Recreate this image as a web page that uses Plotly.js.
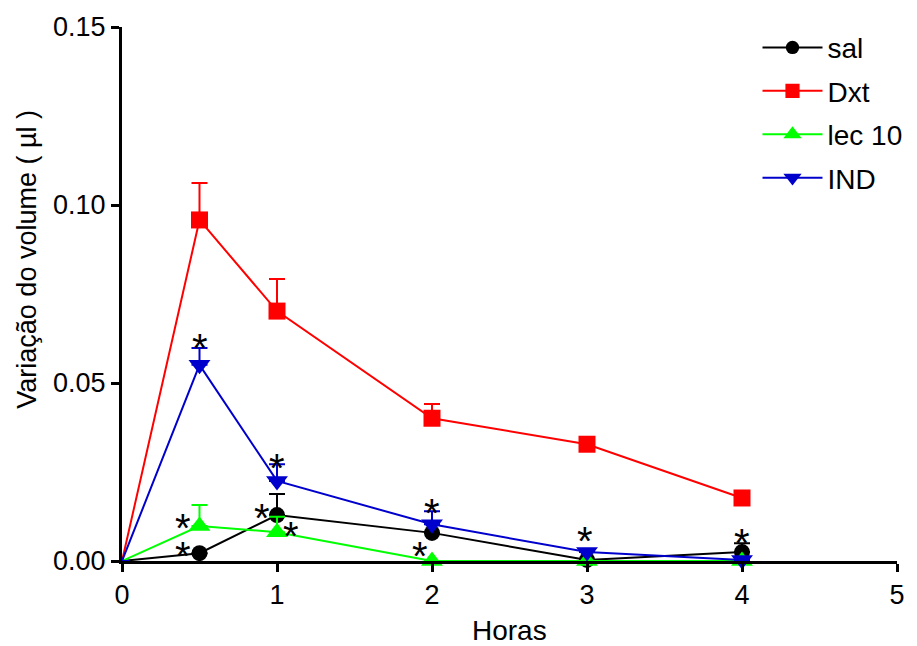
<!DOCTYPE html>
<html>
<head>
<meta charset="utf-8">
<script src="https://cdn.plot.ly/plotly-3.0.1.min.js"></script>
<style>html,body{margin:0;padding:0;background:#fff;}#chart{width:917px;height:646px;}</style>
</head>
<body>
<div id="chart"></div>
<script>
// Data (hours)
const hours = [0, 0.5, 1, 2, 3, 4];
const seriesNames = ['sal', 'Dxt', 'lec 10', 'IND'];
const salMean = [0, 0.0022, 0.0129, 0.0079, 0.0003, 0.0025];
const salErr  = [0, 0,      0.0059, 0,      0,      0.0025];
const dxtMean = [0, 0.0958, 0.0702, 0.0401, 0.0328, 0.0177];
const dxtErr  = [0, 0.0104, 0.0090, 0.0040, 0,      0];
const lecMean = [0, 0.0098, 0.0081, 0.0000, 0.0000, 0.0000];
const lecErr  = [0, 0.0059, 0.0043, 0,      0,      0];
const indMean = [0, 0.0551, 0.0225, 0.0103, 0.0025, 0.0003];
const indErr  = [0, 0.0047, 0.0047, 0.0037, 0,      0];
// significance asterisks (x, y in data units)
const starX = [0.5, 1, 2, 2.99, 4, 0.394, 0.394, 0.903, 1.09, 1.92];
const starY = [0.062, 0.0284, 0.0157, 0.0079, 0.0073, 0.0115, 0.0037, 0.0143, 0.0093, 0.0037];

const colors = ['#000000', '#FF0000', '#00FF00', '#0000CC'];
const symbols = ['circle', 'square', 'triangle-up', 'triangle-down'];
const msize = [16, 17, 19, 19];
const means = [salMean, dxtMean, lecMean, indMean];
const errs = [salErr, dxtErr, lecErr, indErr];

const traces = seriesNames.map((n, i) => ({
  type: 'scatter', mode: 'lines+markers', name: n,
  x: hours, y: means[i], cliponaxis: false, legendgroup: n,
  line: {color: colors[i], width: 2},
  marker: {color: colors[i], symbol: symbols[i], opacity: 1, line: {width: 0},
           size: hours.map((h) => h === 0 ? 0 : msize[i])},
  error_y: {type: 'data', symmetric: false, array: errs[i], arrayminus: hours.map(() => 0),
            color: colors[i], thickness: 2, width: 8}
}));

const font = 'Liberation Sans, Arial, sans-serif';
const annotations = starX.map((x, i) => ({
  x: x, y: starY[i], xref: 'x', yref: 'y', text: '*', showarrow: false,
  font: {family: font, size: 40, color: '#000'}, xanchor: 'center', yanchor: 'middle', yshift: -8
}));
annotations.push({
  xref: 'paper', yref: 'paper', x: -0.123, y: 0.5655, text: 'Variação do volume ( µl )',
  textangle: -90, showarrow: false, font: {family: font, size: 27, color: '#000'},
  xanchor: 'center', yanchor: 'middle'
});
annotations.push({
  xref: 'paper', yref: 'paper', x: 0.5, y: -0.131, text: 'Horas',
  showarrow: false, font: {family: font, size: 28, color: '#000'},
  xanchor: 'center', yanchor: 'middle'
});

const layout = {
  width: 917, height: 646,
  margin: {l: 122, r: 20, t: 27, b: 85, autoexpand: false},
  paper_bgcolor: '#fff', plot_bgcolor: '#fff',
  font: {family: font, color: '#000', size: 27},
  showlegend: true,
  legend: {x: 0.82, y: 1.008, xanchor: 'left', yanchor: 'top', font: {family: font, size: 28},
           bgcolor: 'rgba(0,0,0,0)', tracegroupgap: 4, itemwidth: 60},
  xaxis: {range: [0, 5], dtick: 1, tick0: 0, showgrid: false, zeroline: false,
          showline: true, linecolor: '#000', linewidth: 3, ticks: 'outside', ticklen: 8,
          tickwidth: 3, tickcolor: '#000', tickfont: {size: 27}},
  yaxis: {range: [0, 0.15], dtick: 0.05, tick0: 0, tickformat: '.2f', showgrid: false, zeroline: false,
          showline: true, linecolor: '#000', linewidth: 3, ticks: 'outside', ticklen: 8,
          tickwidth: 3, tickcolor: '#000', tickfont: {size: 27}},
  annotations: annotations
};
Plotly.newPlot('chart', traces, layout, {displayModeBar: false, staticPlot: true});
</script>
</body>
</html>
